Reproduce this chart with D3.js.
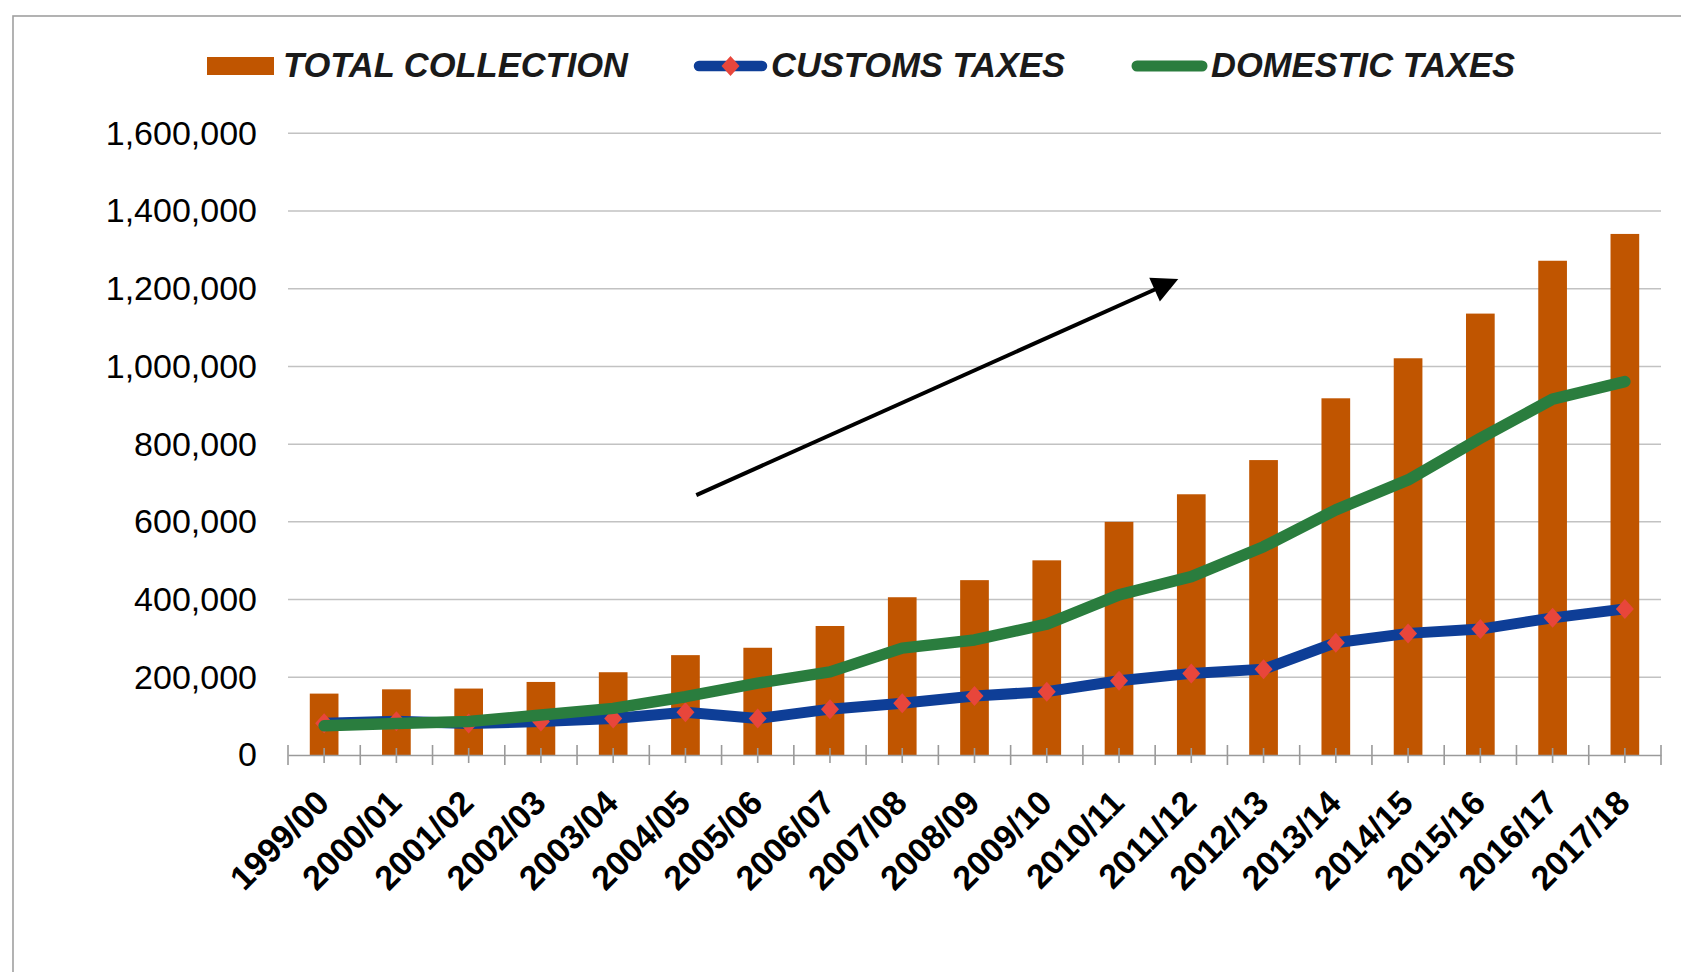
<!DOCTYPE html>
<html>
<head>
<meta charset="utf-8">
<script src="https://cdn.jsdelivr.net/npm/d3@7/dist/d3.min.js"></script>
<style>
  html, body { margin: 0; padding: 0; background: #ffffff; }
  svg { display: block; }
</style>
</head>
<body>
<svg id="chart" width="1681" height="972"></svg>
<script>
// ---------------- DATA ----------------
const categories = ["1999/00","2000/01","2001/02","2002/03","2003/04","2004/05","2005/06","2006/07","2007/08","2008/09","2009/10","2010/11","2011/12","2012/13","2013/14","2014/15","2015/16","2016/17","2017/18"];
const totalCollection = [158000,169000,171000,188000,213000,257000,276000,332000,406000,450000,501000,600000,671000,759000,918000,1021000,1136000,1272000,1341000];
const customsTaxes = [82000,87000,81000,86000,94000,110000,94000,118000,133000,152000,163000,191000,210000,221000,289000,313000,324000,353000,376000];
const domesticTaxes = [75000,81000,86000,103000,120000,150000,185000,214000,275000,296000,337000,412000,459000,536000,631000,708000,815000,916000,961000];
const yTickValues = [0,200000,400000,600000,800000,1000000,1200000,1400000,1600000];
const seriesNames = ["TOTAL COLLECTION","CUSTOMS TAXES","DOMESTIC TAXES"];
// trend arrow annotation in data space: [position in category units, value]
const arrowFrom = [5.65, 669000];
const arrowTo = [12.32, 1225000];

// ---------------- STYLE / LAYOUT ----------------
const colBar = "#C05500", colBlue = "#0E3E97", colGreen = "#2A7D3E", colMarker = "#E8463B";
const font = "'Liberation Sans', Arial, Helvetica, sans-serif";
const plotL = 288, plotR = 1661, plotTop = 133.3, plotBottom = 755;

const svg = d3.select("#chart");

// outer frame
svg.append("rect")
  .attr("x", 13).attr("y", 16).attr("width", 1720).attr("height", 1000)
  .attr("fill", "none").attr("stroke", "#a0a0a0").attr("stroke-width", 1.6);

const x = d3.scaleBand().domain(categories).range([plotL, plotR]).paddingInner(0).paddingOuter(0);
const xPos = d3.scaleLinear().domain([0, categories.length]).range([plotL, plotR]);
const y = d3.scaleLinear().domain([0, 1600000]).range([plotBottom, plotTop]);

// gridlines
svg.append("g").selectAll("line")
  .data(yTickValues.filter(d => d > 0))
  .join("line")
  .attr("x1", plotL).attr("x2", plotR)
  .attr("y1", d => y(d)).attr("y2", d => y(d))
  .attr("stroke", "#c2c2c2").attr("stroke-width", 1.5);

// y axis labels
const yAxis = svg.append("g")
  .attr("transform", `translate(${plotL},0)`)
  .call(d3.axisLeft(y).tickValues(yTickValues).tickSize(0).tickPadding(31).tickFormat(d3.format(",")));
yAxis.select(".domain").remove();
yAxis.selectAll("text")
  .attr("font-family", font).attr("font-size", 34).attr("fill", "#000");

// bars
const barW = x.bandwidth() * 0.397;
svg.append("g").selectAll("rect")
  .data(categories.map((c, i) => ({c, v: totalCollection[i]})))
  .join("rect")
  .attr("x", d => x(d.c) + x.bandwidth() / 2 - barW / 2)
  .attr("y", d => y(d.v))
  .attr("width", barW)
  .attr("height", d => y(0) - y(d.v))
  .attr("fill", colBar);

// x axis
const xAxis = svg.append("g")
  .attr("transform", `translate(0,${plotBottom})`)
  .call(d3.axisBottom(x).tickSize(0).tickPadding(0));
xAxis.select(".domain").attr("stroke", "#9a9a9a").attr("stroke-width", 1.6);
xAxis.selectAll(".tick text")
  .attr("font-family", font).attr("font-size", 34).attr("font-weight", "bold").attr("fill", "#000")
  .attr("text-anchor", "end")
  .attr("dy", 0).attr("y", 0)
  .attr("transform", "translate(7,50) rotate(-45)");
// center ticks
xAxis.selectAll(".tick line").remove();
xAxis.selectAll(".tick").append("line")
  .attr("y1", -7).attr("y2", 8).attr("stroke", "#9a9a9a").attr("stroke-width", 1.6);
// boundary ticks
xAxis.append("g").selectAll("line")
  .data(d3.range(categories.length + 1))
  .join("line")
  .attr("x1", d => xPos(d)).attr("x2", d => xPos(d))
  .attr("y1", -10).attr("y2", 10)
  .attr("stroke", "#9a9a9a").attr("stroke-width", 1.6);

// lines
const cx = c => x(c) + x.bandwidth() / 2;
const lineGen = d3.line().x(d => cx(d.c)).y(d => y(d.v));
const customsData = categories.map((c, i) => ({c, v: customsTaxes[i]}));
const domesticData = categories.map((c, i) => ({c, v: domesticTaxes[i]}));

svg.append("path").datum(customsData)
  .attr("d", lineGen).attr("fill", "none").attr("stroke", colBlue)
  .attr("stroke-width", 11).attr("stroke-linejoin", "round").attr("stroke-linecap", "round");

const dS = 10;
const diamond = `M0,${-dS} L${dS * 0.9},0 L0,${dS} L${-dS * 0.9},0 Z`;
svg.append("g").selectAll("path")
  .data(customsData)
  .join("path")
  .attr("d", diamond)
  .attr("transform", d => `translate(${cx(d.c)},${y(d.v)})`)
  .attr("fill", colMarker);

svg.append("path").datum(domesticData)
  .attr("d", lineGen).attr("fill", "none").attr("stroke", colGreen)
  .attr("stroke-width", 11.5).attr("stroke-linejoin", "round").attr("stroke-linecap", "round");

// arrow annotation
const ax1 = xPos(arrowFrom[0]), ay1 = y(arrowFrom[1]);
const ax2 = xPos(arrowTo[0]), ay2 = y(arrowTo[1]);
const len = Math.hypot(ax2 - ax1, ay2 - ay1);
const ux = (ax2 - ax1) / len, uy = (ay2 - ay1) / len;
const headL = 26, headW = 26;
svg.append("line")
  .attr("x1", ax1).attr("y1", ay1)
  .attr("x2", ax2 - ux * (headL - 4)).attr("y2", ay2 - uy * (headL - 4))
  .attr("stroke", "#000").attr("stroke-width", 4);
const bx = ax2 - ux * headL, by = ay2 - uy * headL;
svg.append("path")
  .attr("d", `M${ax2},${ay2} L${bx - uy * headW / 2},${by + ux * headW / 2} L${bx + uy * headW / 2},${by - ux * headW / 2} Z`)
  .attr("fill", "#000");

// legend
const legend = svg.append("g");
const legY = 66;
legend.append("rect").attr("x", 207).attr("y", 57).attr("width", 67).attr("height", 18).attr("fill", colBar);
legend.append("line").attr("x1", 699).attr("x2", 762).attr("y1", legY).attr("y2", legY)
  .attr("stroke", colBlue).attr("stroke-width", 10.5).attr("stroke-linecap", "round");
legend.append("path").attr("d", diamond).attr("transform", `translate(730.5,${legY})`).attr("fill", colMarker);
legend.append("line").attr("x1", 1137).attr("x2", 1202).attr("y1", legY).attr("y2", legY)
  .attr("stroke", colGreen).attr("stroke-width", 11).attr("stroke-linecap", "round");
const legTextX = [283, 771, 1211];
legend.selectAll("text")
  .data(seriesNames)
  .join("text")
  .attr("x", (d, i) => legTextX[i]).attr("y", 77)
  .attr("font-family", font).attr("font-size", 34.5).attr("font-weight", "bold").attr("font-style", "italic")
  .attr("fill", "#1a1a1a")
  .text(d => d);
</script>
</body>
</html>
